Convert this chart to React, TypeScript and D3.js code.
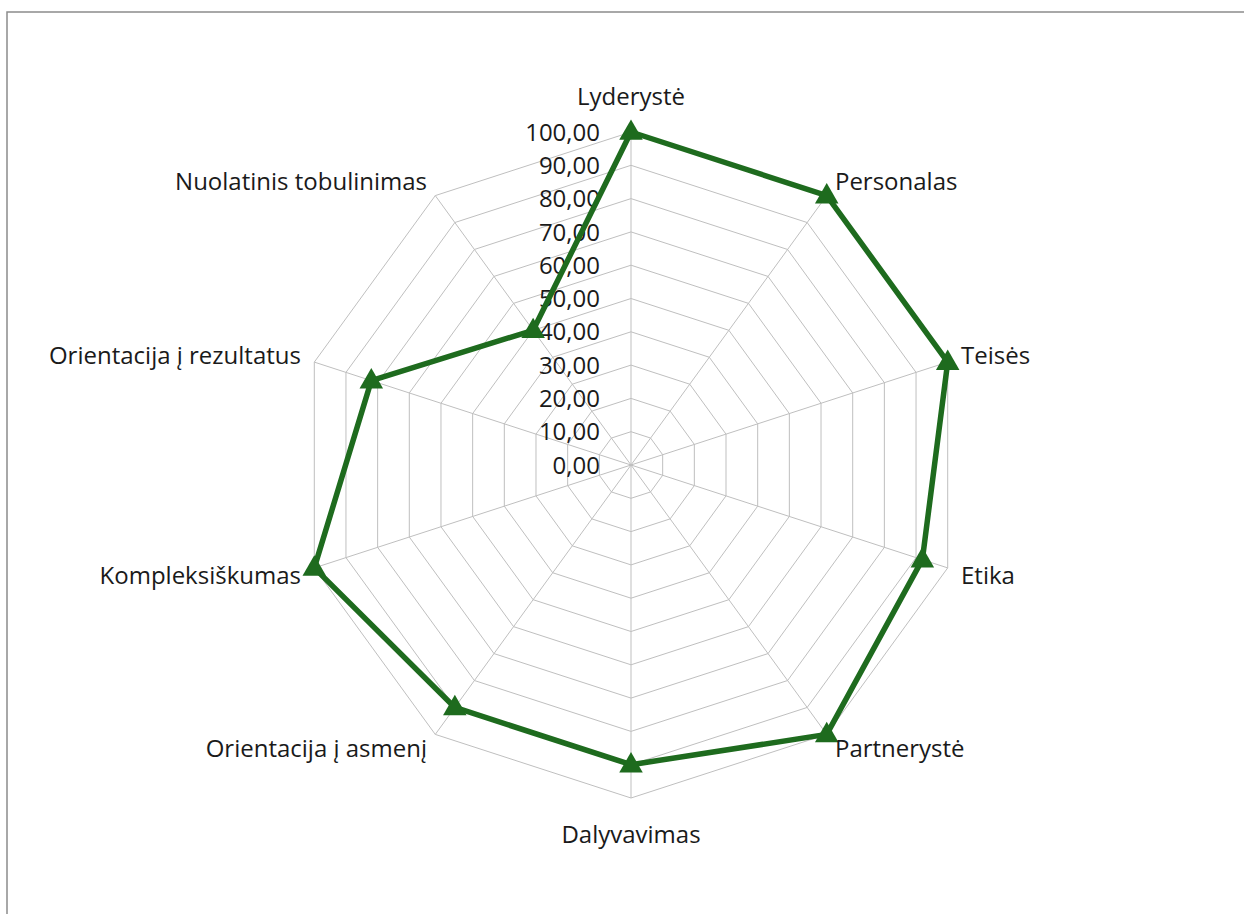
import * as d3 from 'd3';

const categories = [
  'Lyderystė',
  'Personalas',
  'Teisės',
  'Etika',
  'Partnerystė',
  'Dalyvavimas',
  'Orientacija į asmenį',
  'Kompleksiškumas',
  'Orientacija į rezultatus',
  'Nuolatinis tobulinimas',
];
const values = [100, 100, 100, 92, 100, 90, 90, 100, 82, 50];
const ticks = [0, 10, 20, 30, 40, 50, 60, 70, 80, 90, 100];

const App = () => {
  const width = 1244;
  const height = 914;
  const cx = 631;
  const cy = 465;
  const R = 333;
  const font = '"Open Sans", "Noto Sans", sans-serif';

  const rScale = d3.scaleLinear().domain([0, 100]).range([0, R]);
  const angle = d3.scaleLinear().domain([0, categories.length]).range([0, 2 * Math.PI]);

  const pt = (i: number, r: number): [number, number] => [
    cx + r * Math.sin(angle(i)),
    cy - r * Math.cos(angle(i)),
  ];

  const ring = (v: number) =>
    categories.map((_, i) => pt(i, rScale(v)).join(',')).join(' ');

  const dataPath = d3.line()(values.map((v, i) => pt(i, rScale(v))))! + 'Z';
  const tri = d3.symbol().type(d3.symbolTriangle).size(240)()!;

  return (
    <svg width={width} height={height} style={{ position: 'absolute', left: 0, top: 0, background: '#fff' }}>
      <rect x={7} y={12} width={width + 20} height={height + 20} fill="#fff" stroke="#8c8c8c" strokeWidth={1.5} />

      {ticks.slice(1).map((t) => (
        <polygon key={t} points={ring(t)} fill="none" stroke="#bfbfbf" strokeWidth={1} />
      ))}
      {categories.map((c, i) => {
        const [x, y] = pt(i, R);
        return <line key={c} x1={cx} y1={cy} x2={x} y2={y} stroke="#bfbfbf" strokeWidth={1} />;
      })}

      {ticks.map((t) => (
        <text
          key={t}
          x={cx - 31}
          y={cy - rScale(t)}
          dy="0.36em"
          textAnchor="end"
          fontFamily={font}
          fontSize={24}
          fill="#1a1a1a"
        >
          {d3.format('.2f')(t).replace('.', ',')}
        </text>
      ))}

      <path d={dataPath} fill="none" stroke="#1e6b1e" strokeWidth={5.5} strokeLinejoin="round" />
      {values.map((v, i) => {
        const [x, y] = pt(i, rScale(v));
        return <path key={i} d={tri} transform={`translate(${x},${y + 1})`} fill="#1e6b1e" />;
      })}

      {categories.map((c, i) => {
        const [x, y] = pt(i, R + 14);
        const s = Math.sin(angle(i));
        const co = Math.cos(angle(i));
        const anchor = s > 0.1 ? 'start' : s < -0.1 ? 'end' : 'middle';
        const shift = Math.abs(s) < 0.1 ? -co * 22 : (co > 0.5 ? -3 : co < -0.5 ? 3 : co > 0 ? -2 : 3);
        return (
          <text
            key={c}
            x={x}
            y={y + shift}
            dy="0.36em"
            textAnchor={anchor}
            fontFamily={font}
            fontSize={24}
            fill="#1a1a1a"
          >
            {c}
          </text>
        );
      })}
    </svg>
  );
};

export default App;
